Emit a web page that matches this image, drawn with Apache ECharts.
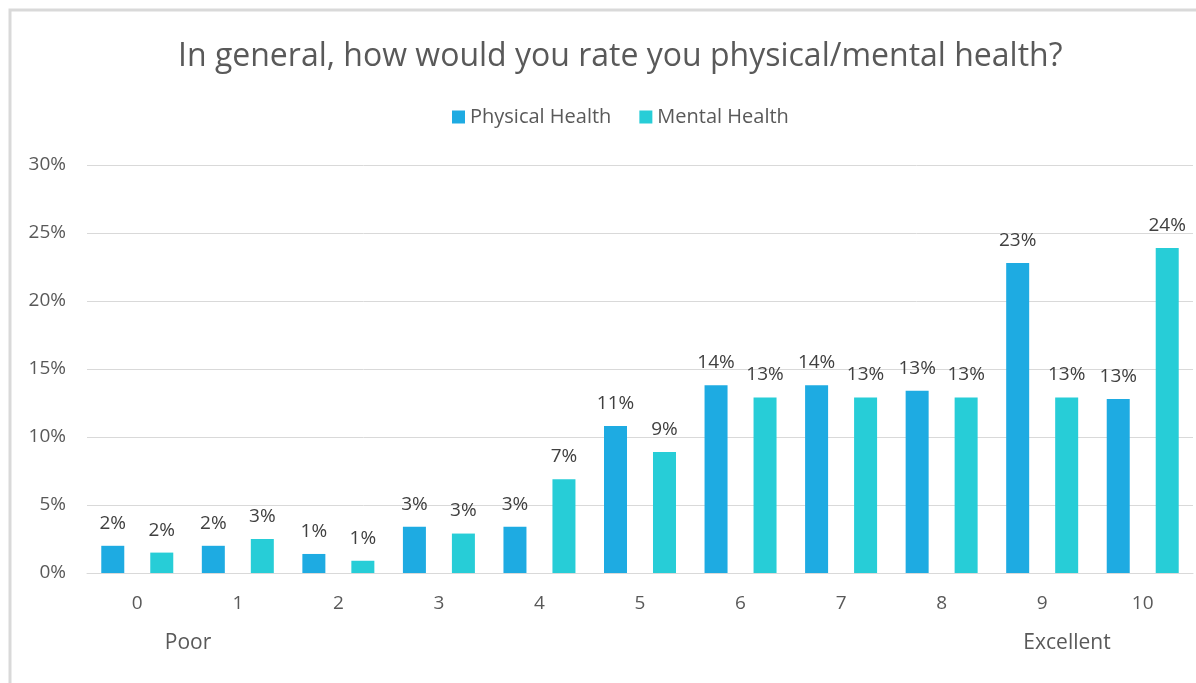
<!DOCTYPE html>
<html>
<head>
<meta charset="utf-8">
<script src="https://cdn.jsdelivr.net/npm/echarts@6/dist/echarts.min.js"></script>
<style>html,body{margin:0;padding:0;background:#fff}#c{width:1196px;height:683px}</style>
</head>
<body>
<div id="c"></div>
<script>
const categories = ['0','1','2','3','4','5','6','7','8','9','10'];
const physicalHealth = [2.0, 2.0, 1.4, 3.4, 3.4, 10.8, 13.8, 13.8, 13.4, 22.8, 12.8];
const mentalHealth = [1.5, 2.5, 0.9, 2.9, 6.9, 8.9, 12.9, 12.9, 12.9, 12.9, 23.9];
const yTicks = [0, 5, 10, 15, 20, 25, 30];
const titleText = 'In general, how would you rate you physical/mental health?';
const seriesNames = ['Physical Health', 'Mental Health'];
const lowLabel = 'Poor';
const highLabel = 'Excellent';

const font = '"Open Sans", Lato, sans-serif';
const chart = echarts.init(document.getElementById('c'), null, {renderer: 'canvas'});
const labelOpt = {
  show: true, position: 'top', distance: 13,
  color: '#404040', fontSize: 19, fontFamily: font,
  formatter: p => Math.round(p.value) + '%'
};
chart.setOption({
  animation: false,
  title: {
    text: titleText, left: 173, top: 36,
    textStyle: {fontFamily: font, fontSize: 32, fontWeight: 'normal', color: '#595959'}
  },
  legend: {
    top: 102, left: 447, itemWidth: 13, itemHeight: 13, itemGap: 28,
    icon: 'rect',
    textStyle: {fontFamily: font, fontSize: 20, color: '#595959'},
    data: seriesNames
  },
  grid: {left: 87, right: 3, top: 165, bottom: 110, containLabel: false},
  xAxis: {
    type: 'category', data: categories,
    axisLine: {show: true, lineStyle: {color: '#d9d9d9', width: 1}},
    axisTick: {show: false},
    axisLabel: {color: '#595959', fontSize: 19, fontFamily: font, margin: 21}
  },
  yAxis: {
    type: 'value', min: 0, max: 30, interval: 5,
    axisLine: {show: false}, axisTick: {show: false},
    splitLine: {lineStyle: {color: '#d9d9d9', width: 1}},
    axisLabel: {color: '#595959', fontSize: 19, fontFamily: font, margin: 21,
      formatter: v => yTicks.includes(v) ? v + '%' : ''}
  },
  series: [
    {name: seriesNames[0], type: 'bar', data: physicalHealth, barWidth: 23, barGap: '113%',
     itemStyle: {color: '#1EABE2'}, label: labelOpt},
    {name: seriesNames[1], type: 'bar', data: mentalHealth, barWidth: 23, barGap: '113%',
     itemStyle: {color: '#27CDD7'}, label: labelOpt}
  ],
  graphic: [
    {type: 'rect', shape: {x: 10, y: 10, width: 1200, height: 700}, silent: true,
     style: {fill: 'none', stroke: '#d9d9d9', lineWidth: 3}, z: -1},
    {type: 'text', x: 188, y: 643, style: {text: lowLabel, fill: '#595959', font: '21px ' + font, textAlign: 'center', textVerticalAlign: 'middle'}},
    {type: 'text', x: 1067, y: 643, style: {text: highLabel, fill: '#595959', font: '21px ' + font, textAlign: 'center', textVerticalAlign: 'middle'}}
  ]
});
</script>
</body>
</html>
